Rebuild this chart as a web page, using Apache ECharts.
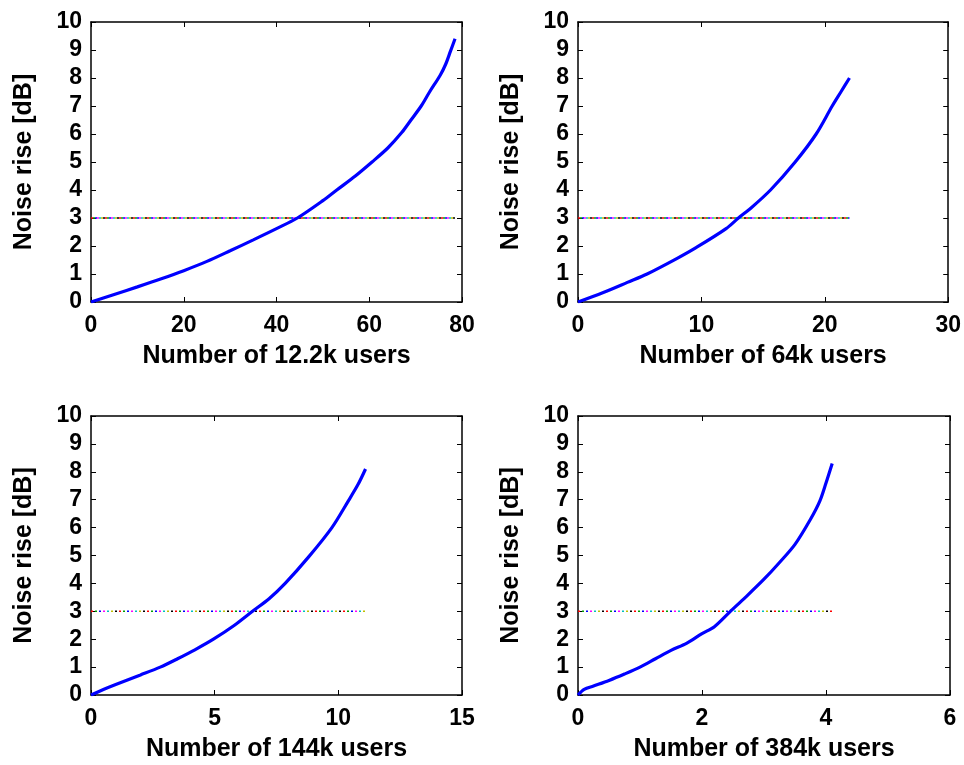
<!DOCTYPE html>
<html><head><meta charset="utf-8">
<script src="https://cdn.jsdelivr.net/npm/echarts@6/dist/echarts.min.js"></script>
<style>html,body{margin:0;padding:0;background:#fff}#c{width:964px;height:765px}</style>
</head><body><div id="c"></div>
<script>
// Data
const titles = ['Number of 12.2k users','Number of 64k users','Number of 144k users','Number of 384k users'];
const yTitle = 'Noise rise [dB]';
const xMax = [80, 30, 15, 6];
const xInterval = [20, 10, 5, 2];
const x12k = [0,5,10,15,20,25,30,35,40,44.5,50,53,57,60.6,64,67,69,71.2,73,75.3,76.5,77.5,78.5];
const y12k = [0,0.27,0.54,0.82,1.12,1.45,1.83,2.22,2.62,3.0,3.62,4.0,4.5,5.0,5.5,6.05,6.5,7.0,7.5,8.1,8.5,8.95,9.4];
const x64k = [0,2,4,5.6,8,9.6,12,13,14,15.6,17.6,19.3,20.6,21.3,22];
const y64k = [0,0.33,0.7,1.0,1.55,1.95,2.62,3.0,3.35,4.0,5.0,6.0,7.0,7.5,8.0];
const x144k = [0,0.5,1,2,2.8,3.5,4.2,4.95,5.8,6.53,7.2,7.85,8.8,9.74,10.4,10.8,11.1];
const y144k = [0,0.2,0.38,0.72,1.0,1.3,1.62,2.0,2.5,3.0,3.45,4.0,4.95,6.0,6.95,7.55,8.1];
const x384k = [0,0.1,0.25,0.5,0.75,1,1.25,1.5,1.75,2,2.2,2.45,2.7,3,3.25,3.5,3.75,3.9,4,4.1];
const y384k = [0,0.2,0.32,0.52,0.75,1.0,1.3,1.6,1.85,2.2,2.45,2.98,3.5,4.15,4.75,5.4,6.3,6.95,7.6,8.3];
const threshold = 3;
const thresholdEnd = [78.5, 22, 11.1, 4.1];

const curves = [[x12k,y12k],[x64k,y64k],[x144k,y144k],[x384k,y384k]];
const dotColors = ['#ff0000','#00a000','#0000ff','#ff00ff','#00c0c0','#c0c000','#000000'];

const grids = [
  {left:91, top:22, width:371, height:280},
  {left:578, top:22, width:372, height:280},
  {left:91, top:416, width:371, height:279},
  {left:578, top:416, width:372, height:279}
];
const font = 'Liberation Sans';
const xAxis = [], yAxis = [], series = [];
grids.forEach((g, i) => {
  const base = {type:'value', gridIndex:i, min:0, max:xMax[i], interval:xInterval[i],
    splitLine:{show:false}, axisLine:{show:true, onZero:false, lineStyle:{color:'#000', width:1.5}},
    axisTick:{show:true, inside:true, length:5, lineStyle:{color:'#000', width:1}}};
  xAxis.push(Object.assign({}, base, {position:'bottom', name:titles[i], nameLocation:'middle', nameGap:42,
    nameTextStyle:{fontFamily:font, fontWeight:'bold', fontSize:25, color:'#000'},
    axisLabel:{fontFamily:font, fontWeight:'bold', fontSize:23, color:'#000', margin:12}}));
  xAxis.push(Object.assign({}, base, {position:'top', axisLabel:{show:false}}));
  const ybase = {type:'value', gridIndex:i, min:0, max:10, interval:1,
    splitLine:{show:false}, axisLine:{show:true, onZero:false, lineStyle:{color:'#000', width:1.5}},
    axisTick:{show:true, inside:true, length:5, lineStyle:{color:'#000', width:1}}};
  yAxis.push(Object.assign({}, ybase, {position:'left', name:yTitle, nameLocation:'middle', nameGap:54,
    nameTextStyle:{fontFamily:font, fontWeight:'bold', fontSize:25, color:'#000'},
    axisLabel:{fontFamily:font, fontWeight:'bold', fontSize:23, color:'#000', margin:9}}));
  yAxis.push(Object.assign({}, ybase, {position:'right', axisLabel:{show:false}}));
  const top = i < 2;
  const gap = top ? 2 : 4;
  dotColors.forEach((c, k) => {
    series.push({type:'line', xAxisIndex:2*i, yAxisIndex:2*i, symbol:'none', silent:true,
      data:[[0,threshold],[thresholdEnd[i],threshold]],
      lineStyle:{color:c, width:1.5, type:[2, gap*dotColors.length-2], dashOffset:-gap*k}});
  });
  const [xs, ys] = curves[i];
  series.push({type:'line', xAxisIndex:2*i, yAxisIndex:2*i, symbol:'none', smooth:0.3, silent:true,
    data: xs.map((x, j) => [x, ys[j]]), lineStyle:{color:'#0000ff', width:3.2}, z:5});
});
const chart = echarts.init(document.getElementById('c'));
chart.setOption({animation:false, backgroundColor:'#fff', grid:grids, xAxis, yAxis, series});
</script></body></html>
